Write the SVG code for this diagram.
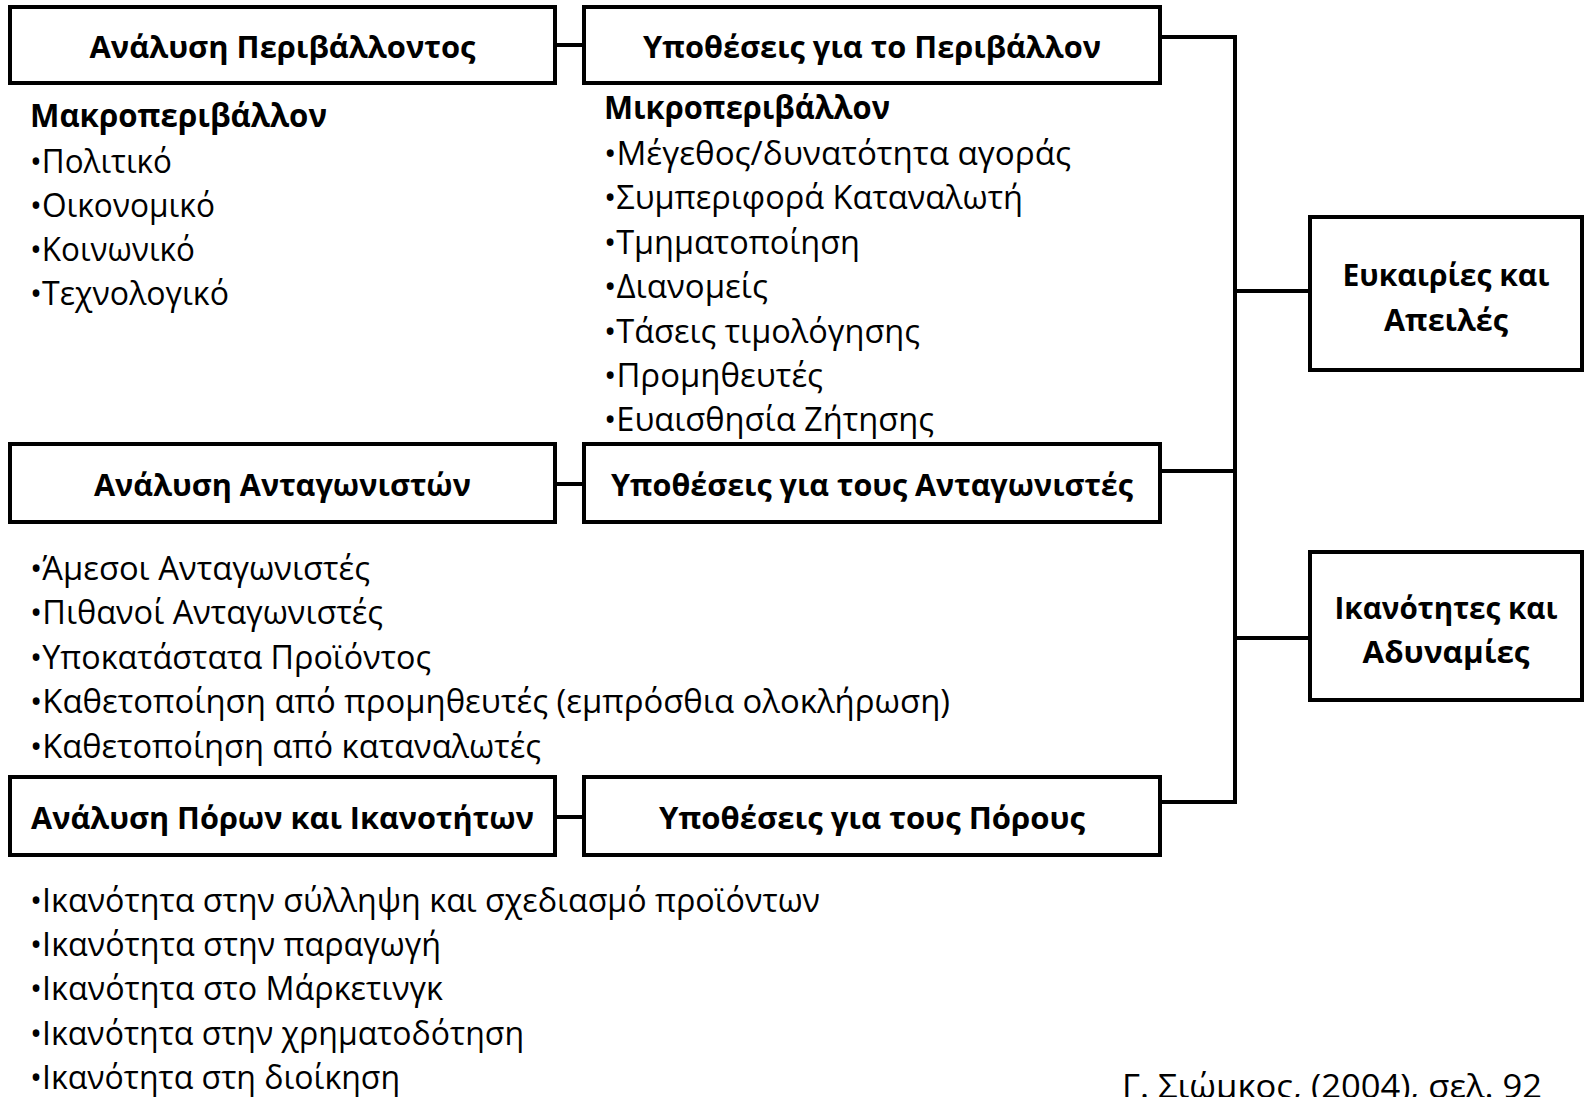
<svg xmlns="http://www.w3.org/2000/svg" width="1585" height="1097" viewBox="0 0 1585 1097">
<style>
.box{fill:#fff;stroke:#000;stroke-width:4}
.con{fill:none;stroke:#000;stroke-width:4;stroke-linejoin:miter;stroke-linecap:butt}
.h{font-family:"Open Sans","Noto Sans",sans-serif;font-weight:bold;font-size:31px;fill:#000;text-anchor:middle}
.t{font-family:"Open Sans","Noto Sans",sans-serif;font-size:32px;fill:#000}
.tb{font-family:"Open Sans","Noto Sans",sans-serif;font-weight:bold;font-size:32px;fill:#000}
</style>
<rect width="1585" height="1097" fill="#fff"/>
<g id="connectors">
<line class="con" x1="555" y1="45" x2="584" y2="45"/>
<line class="con" x1="555" y1="484" x2="584" y2="484"/>
<line class="con" x1="555" y1="817" x2="584" y2="817"/>
<polyline class="con" points="1160,37 1235,37 1235,802 1160,802"/>
<line class="con" x1="1160" y1="471" x2="1235" y2="471"/>
<line class="con" x1="1235" y1="291" x2="1310" y2="291"/>
<line class="con" x1="1235" y1="638" x2="1310" y2="638"/>
</g>
<g id="env-analysis">
<rect class="box" x="10" y="7" width="545" height="76"/>
<text class="h" x="282.5" y="58" textLength="386" lengthAdjust="spacingAndGlyphs">Ανάλυση Περιβάλλοντος</text>
</g>
<g id="env-assumptions">
<rect class="box" x="584" y="7" width="576" height="76"/>
<text class="h" x="872" y="58" textLength="458" lengthAdjust="spacingAndGlyphs">Υποθέσεις για το Περιβάλλον</text>
</g>
<g id="macro-list">
<text class="tb" x="30" y="127" textLength="297" lengthAdjust="spacingAndGlyphs">Μακροπεριβάλλον</text>
<text class="t" x="30" y="173" textLength="142" lengthAdjust="spacingAndGlyphs">•Πολιτικό</text>
<text class="t" x="30" y="217" textLength="185" lengthAdjust="spacingAndGlyphs">•Οικονομικό</text>
<text class="t" x="30" y="261" textLength="165" lengthAdjust="spacingAndGlyphs">•Κοινωνικό</text>
<text class="t" x="30" y="305" textLength="199" lengthAdjust="spacingAndGlyphs">•Τεχνολογικό</text>
</g>
<g id="micro-list">
<text class="tb" x="604" y="119" textLength="286" lengthAdjust="spacingAndGlyphs">Μικροπεριβάλλον</text>
<text class="t" x="604" y="165" textLength="467" lengthAdjust="spacingAndGlyphs">•Μέγεθος/δυνατότητα αγοράς</text>
<text class="t" x="604" y="209" textLength="419" lengthAdjust="spacingAndGlyphs">•Συμπεριφορά Καταναλωτή</text>
<text class="t" x="604" y="254" textLength="256" lengthAdjust="spacingAndGlyphs">•Τμηματοποίηση</text>
<text class="t" x="604" y="298" textLength="164" lengthAdjust="spacingAndGlyphs">•Διανομείς</text>
<text class="t" x="604" y="343" textLength="316" lengthAdjust="spacingAndGlyphs">•Τάσεις τιμολόγησης</text>
<text class="t" x="604" y="387" textLength="219" lengthAdjust="spacingAndGlyphs">•Προμηθευτές</text>
<text class="t" x="604" y="431" textLength="330" lengthAdjust="spacingAndGlyphs">•Ευαισθησία Ζήτησης</text>
</g>
<g id="comp-analysis">
<rect class="box" x="10" y="444" width="545" height="78"/>
<text class="h" x="282.5" y="496" textLength="377" lengthAdjust="spacingAndGlyphs">Ανάλυση Ανταγωνιστών</text>
</g>
<g id="comp-assumptions">
<rect class="box" x="584" y="444" width="576" height="78"/>
<text class="h" x="872" y="496" textLength="522" lengthAdjust="spacingAndGlyphs">Υποθέσεις για τους Ανταγωνιστές</text>
</g>
<g id="comp-list">
<text class="t" x="30" y="580" textLength="340" lengthAdjust="spacingAndGlyphs">•Άμεσοι Ανταγωνιστές</text>
<text class="t" x="30" y="624" textLength="353" lengthAdjust="spacingAndGlyphs">•Πιθανοί Ανταγωνιστές</text>
<text class="t" x="30" y="669" textLength="401" lengthAdjust="spacingAndGlyphs">•Υποκατάστατα Προϊόντος</text>
<text class="t" x="30" y="713" textLength="920" lengthAdjust="spacingAndGlyphs">•Καθετοποίηση από προμηθευτές (εμπρόσθια ολοκλήρωση)</text>
<text class="t" x="30" y="758" textLength="511" lengthAdjust="spacingAndGlyphs">•Καθετοποίηση από καταναλωτές</text>
</g>
<g id="res-analysis">
<rect class="box" x="10" y="777" width="545" height="78"/>
<text class="h" x="282.5" y="829" textLength="503" lengthAdjust="spacingAndGlyphs">Ανάλυση Πόρων και Ικανοτήτων</text>
</g>
<g id="res-assumptions">
<rect class="box" x="584" y="777" width="576" height="78"/>
<text class="h" x="872" y="829" textLength="426" lengthAdjust="spacingAndGlyphs">Υποθέσεις για τους Πόρους</text>
</g>
<g id="res-list">
<text class="t" x="30" y="912" textLength="790" lengthAdjust="spacingAndGlyphs">•Ικανότητα στην σύλληψη και σχεδιασμό προϊόντων</text>
<text class="t" x="30" y="956" textLength="411" lengthAdjust="spacingAndGlyphs">•Ικανότητα στην παραγωγή</text>
<text class="t" x="30" y="1000" textLength="413" lengthAdjust="spacingAndGlyphs">•Ικανότητα στο Μάρκετινγκ</text>
<text class="t" x="30" y="1045" textLength="494" lengthAdjust="spacingAndGlyphs">•Ικανότητα στην χρηματοδότηση</text>
<text class="t" x="30" y="1089" textLength="370" lengthAdjust="spacingAndGlyphs">•Ικανότητα στη διοίκηση</text>
</g>
<g id="opportunities-threats">
<rect class="box" x="1310" y="217" width="272" height="153"/>
<text class="h" x="1446" y="286" textLength="207" lengthAdjust="spacingAndGlyphs">Ευκαιρίες και</text>
<text class="h" x="1446" y="331" textLength="124" lengthAdjust="spacingAndGlyphs">Απειλές</text>
</g>
<g id="strengths-weaknesses">
<rect class="box" x="1310" y="552" width="272" height="148"/>
<text class="h" x="1446" y="619" textLength="223" lengthAdjust="spacingAndGlyphs">Ικανότητες και</text>
<text class="h" x="1446" y="663" textLength="167" lengthAdjust="spacingAndGlyphs">Αδυναμίες</text>
</g>
<g id="citation">
<text class="t" x="1122" y="1098" textLength="420" lengthAdjust="spacingAndGlyphs">Γ. Σιώμκος, (2004), σελ. 92</text>
</g>
</svg>
